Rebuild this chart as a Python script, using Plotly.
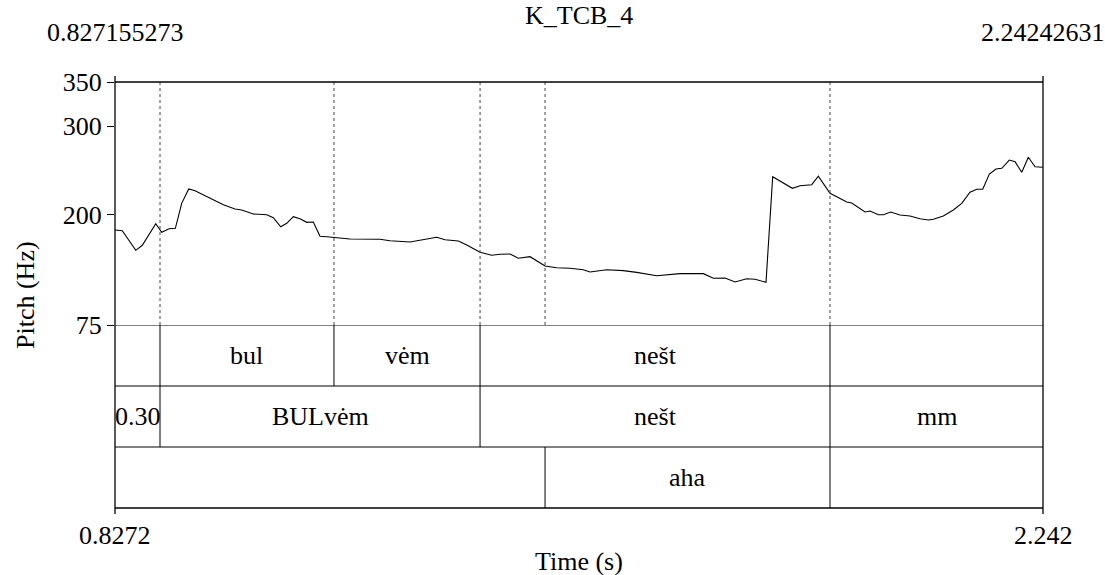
import plotly.graph_objects as go

# ---------------- data ----------------
title_text = "K_TCB_4"
t_start = 0.827155273
t_end = 2.24242631
t_start_label = "0.8272"
t_end_label = "2.242"
t_start_top = "0.827155273"
t_end_top = "2.24242631"

pitch_time = [0.8272, 0.8383, 0.8588, 0.8688, 0.8893, 0.8984, 0.9096, 0.9192, 0.9289, 0.9396,
              0.9492, 0.9721, 0.9924, 1.0102, 1.0204, 1.0381, 1.0586, 1.0686, 1.0799, 1.0891,
              1.0991, 1.1093, 1.1196, 1.1296, 1.1398, 1.1501, 1.1703, 1.1856, 1.2313, 1.2466,
              1.2771, 1.2974, 1.3178, 1.3305, 1.3508, 1.3636, 1.3839, 1.4017, 1.4144, 1.4296,
              1.4423, 1.4601, 1.4728, 1.4830, 1.5008, 1.5211, 1.5414, 1.5516, 1.5771, 1.6024,
              1.6228, 1.6533, 1.6889, 1.7244, 1.7397, 1.7575, 1.7728, 1.7906, 1.8033, 1.8200,
              1.8302, 1.8464, 1.8602, 1.8719, 1.8897, 1.8998, 1.9176, 1.9279, 1.9431, 1.9507,
              1.9710, 1.9787, 1.9913, 1.9989, 2.0102, 2.0244, 2.0396, 2.0549, 2.0676, 2.0752,
              2.0904, 2.1057, 2.1185, 2.1311, 2.1414, 2.1505, 2.1606, 2.1708, 2.1795, 2.1911,
              2.1998, 2.2100, 2.2201, 2.2303, 2.2420]
pitch_hz = [182.5, 181.7, 159.5, 165.2, 189.6, 179.9, 184.0, 184.4, 212.7, 228.9,
            227.0, 218.4, 211.1, 206.3, 205.1, 200.6, 199.8, 196.4, 186.2, 190.1,
            197.6, 195.3, 191.2, 191.6, 175.4, 174.9, 173.5, 172.3, 172.0, 170.4,
            168.9, 171.2, 174.3, 171.5, 170.1, 165.5, 157.3, 153.9, 155.0, 155.4,
            150.5, 152.3, 146.6, 141.8, 139.8, 139.2, 137.6, 135.0, 137.6, 136.5,
            134.6, 130.8, 133.1, 133.1, 127.9, 128.2, 123.7, 127.4, 126.7, 123.3,
            242.8, 235.4, 229.7, 232.6, 233.8, 243.3, 224.0, 220.2, 214.2, 213.1,
            202.9, 204.0, 199.8, 199.8, 202.9, 199.5, 198.4, 195.3, 193.8, 194.6,
            198.4, 205.1, 212.7, 225.2, 228.6, 228.6, 245.9, 251.5, 252.3, 261.7,
            259.8, 247.8, 264.8, 254.1, 253.5]

y_range = [75, 350]
y_ticks = [75, 200, 300, 350]
y_title = "Pitch (Hz)"
x_title = "Time (s)"

tier1_edges = [0.8958, 1.1611, 1.3839, 1.9176]
tier1_labels = ["", "bul", "vėm", "nešt", ""]
tier2_edges = [0.8958, 1.3839, 1.9176]
tier2_labels = ["0.30", "BULvėm", "nešt", "mm"]
tier3_edges = [1.4830, 1.9176]
tier3_labels = ["", "aha", ""]

# ---------------- layout constants ----------------
W, H = 1105, 575
L, R, T, B = 115, 62, 82, 67
plot_h = H - T - B            # 426
tier_h_px = 61
pitch_frac = 3 * tier_h_px / plot_h
FONT = "Liberation Serif, Times New Roman, serif"
FS = 26

fig = go.Figure()
fig.add_trace(go.Scatter(x=pitch_time, y=pitch_hz, mode="lines",
                         line=dict(color="black", width=1.1), xaxis="x", yaxis="y",
                         hoverinfo="skip", showlegend=False))

shapes = []
annotations = []

# dotted boundaries in pitch area
all_edges = sorted(set(tier1_edges + tier2_edges + tier3_edges))
for e in all_edges:
    shapes.append(dict(type="line", xref="x", yref="y", x0=e, x1=e, y0=y_range[0], y1=y_range[1],
                       line=dict(color="#444", width=1, dash="dot")))

# tiers
tiers = [(tier1_edges, tier1_labels), (tier2_edges, tier2_labels), (tier3_edges, tier3_labels)]
for i, (edges, labels) in enumerate(tiers):
    top = 3 - i
    bot = 2 - i
    for e in edges:
        shapes.append(dict(type="line", xref="x", yref="y2", x0=e, x1=e, y0=bot, y1=top,
                           line=dict(color="black", width=1)))
    bounds = [t_start] + edges + [t_end]
    for k, lab in enumerate(labels):
        if lab:
            annotations.append(dict(x=(bounds[k] + bounds[k + 1]) / 2, y=(top + bot) / 2,
                                    xref="x", yref="y2", text=lab, showarrow=False,
                                    xanchor="center", yanchor="middle",
                                    font=dict(family=FONT, size=FS, color="black")))
    shapes.append(dict(type="line", xref="paper", yref="y2", x0=0, x1=1, y0=top, y1=top,
                       line=dict(color="black", width=1)))

# frame
ext = 6 / plot_h
shapes += [
    dict(type="line", xref="paper", yref="paper", x0=0, x1=1, y0=1, y1=1, line=dict(color="black", width=1.3)),
    dict(type="line", xref="paper", yref="paper", x0=0, x1=1, y0=0, y1=0, line=dict(color="black", width=1.3)),
    dict(type="line", xref="paper", yref="paper", x0=0, x1=0, y0=-ext, y1=1 + ext, line=dict(color="black", width=1.3)),
    dict(type="line", xref="paper", yref="paper", x0=1, x1=1, y0=-ext, y1=1 + ext, line=dict(color="black", width=1.3)),
]

def py(px):
    return (H - B - px) / plot_h

txt = dict(family=FONT, size=FS, color="black")
annotations += [
    dict(x=0.5, y=py(15), xref="paper", yref="paper", text=title_text, showarrow=False,
         xanchor="center", yanchor="middle", font=txt),
    dict(x=t_start, y=py(32), xref="x", yref="paper", text=t_start_top, showarrow=False,
         xanchor="center", yanchor="middle", font=txt),
    dict(x=t_end, y=py(32), xref="x", yref="paper", text=t_end_top, showarrow=False,
         xanchor="center", yanchor="middle", font=txt),
    dict(x=t_start, y=py(535), xref="x", yref="paper", text=t_start_label, showarrow=False,
         xanchor="center", yanchor="middle", font=txt),
    dict(x=t_end, y=py(535), xref="x", yref="paper", text=t_end_label, showarrow=False,
         xanchor="center", yanchor="middle", font=txt),
    dict(x=0.5, y=py(561), xref="paper", yref="paper", text=x_title, showarrow=False,
         xanchor="center", yanchor="middle", font=txt),
    dict(x=(25 - L) / (W - L - R), y=0.5, xref="paper", yref="paper", text=y_title, showarrow=False,
         textangle=-90, xanchor="center", yanchor="middle", font=txt),
]

fig.update_layout(
    width=W, height=H,
    margin=dict(l=L, r=R, t=T, b=B, pad=0),
    paper_bgcolor="white", plot_bgcolor="white",
    showlegend=False,
    xaxis=dict(range=[t_start, t_end], showgrid=False, zeroline=False, showline=False,
               showticklabels=False, ticks="", anchor="y2"),
    yaxis=dict(domain=[pitch_frac, 1], range=y_range, tickvals=y_ticks,
               ticktext=[str(v) for v in y_ticks], ticks="outside", ticklen=7,
               tickcolor="black", tickwidth=1.3, showgrid=False, zeroline=False,
               showline=False, tickfont=txt, anchor="x"),
    yaxis2=dict(domain=[0, pitch_frac], range=[0, 3], showgrid=False, zeroline=False,
                showline=False, showticklabels=False, ticks="", anchor="x"),
    shapes=shapes, annotations=annotations,
)

fig.write_html("out.html")
